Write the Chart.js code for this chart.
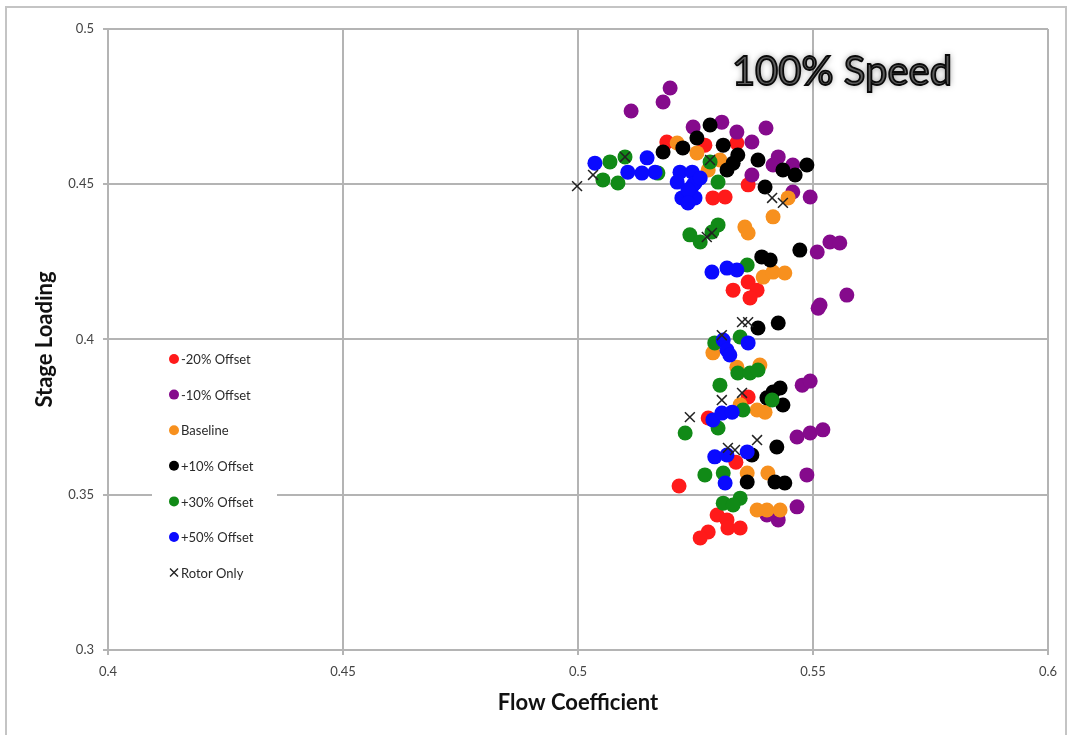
<!DOCTYPE html>
<html>
<head>
<meta charset="utf-8">
<script src="https://cdn.jsdelivr.net/npm/chart.js@4.4.1/dist/chart.umd.min.js"></script>
<style>
  html, body { margin: 0; padding: 0; background: #fff; }
  canvas { display: block; }
</style>
</head>
<body>
<canvas id="chart" width="1070" height="735"></canvas>
<script>
// Stage loading vs flow coefficient at 100% speed, one series per offset
const SERIES_NAMES = ['-20% Offset', '-10% Offset', 'Baseline', '+10% Offset', '+30% Offset', '+50% Offset', 'Rotor Only'];
const SERIES_COLORS = ['#ff1a1a', '#850a8c', '#f7901e', '#000000', '#118a17', '#0a0aff', '#222222'];

const X_TICKS = [0.4, 0.45, 0.5, 0.55, 0.6];
const Y_TICKS = [0.3, 0.35, 0.4, 0.45, 0.5];

const minus20 = [
  [0.5189, 0.4636], [0.5270, 0.4626], [0.5338, 0.4633], [0.5362, 0.4498], [0.5287, 0.4456],
  [0.5313, 0.4459], [0.5330, 0.4159], [0.5362, 0.4185], [0.5381, 0.4159], [0.5366, 0.4134],
  [0.5362, 0.3815], [0.5277, 0.3747], [0.5336, 0.3605], [0.5215, 0.3528], [0.5296, 0.3435],
  [0.5317, 0.3419], [0.5319, 0.3393], [0.5345, 0.3393], [0.5277, 0.3380], [0.5260, 0.3361]
];
const minus10 = [
  [0.5113, 0.4736], [0.5181, 0.4765], [0.5196, 0.4810], [0.5245, 0.4684], [0.5306, 0.4700],
  [0.5338, 0.4668], [0.5370, 0.4636], [0.5400, 0.4681], [0.5426, 0.4588], [0.5415, 0.4562],
  [0.5457, 0.4562], [0.5370, 0.4530], [0.5457, 0.4475], [0.5494, 0.4459], [0.5509, 0.4282],
  [0.5536, 0.4314], [0.5557, 0.4311], [0.5515, 0.4111], [0.5511, 0.4101], [0.5572, 0.4143],
  [0.5477, 0.3853], [0.5494, 0.3866], [0.5466, 0.3686], [0.5494, 0.3699], [0.5521, 0.3709],
  [0.5487, 0.3564], [0.5466, 0.3461], [0.5426, 0.3419], [0.5402, 0.3435]
];
const baseline = [
  [0.5211, 0.4633], [0.5253, 0.4601], [0.5277, 0.4546], [0.5302, 0.4578], [0.5447, 0.4456],
  [0.5415, 0.4395], [0.5355, 0.4362], [0.5362, 0.4343], [0.5394, 0.4201], [0.5415, 0.4217],
  [0.5440, 0.4214], [0.5287, 0.3957], [0.5338, 0.3911], [0.5387, 0.3918], [0.5381, 0.3773],
  [0.5398, 0.3766], [0.5345, 0.3790], [0.5360, 0.3570], [0.5404, 0.3570], [0.5381, 0.3451],
  [0.5402, 0.3451], [0.5430, 0.3451]
];
const plus10 = [
  [0.5281, 0.4691], [0.5253, 0.4649], [0.5223, 0.4617], [0.5181, 0.4604], [0.5309, 0.4626],
  [0.5340, 0.4594], [0.5330, 0.4568], [0.5317, 0.4546], [0.5383, 0.4578], [0.5398, 0.4491],
  [0.5436, 0.4546], [0.5462, 0.4530], [0.5487, 0.4562], [0.5472, 0.4288], [0.5391, 0.4266],
  [0.5409, 0.4256], [0.5426, 0.4053], [0.5383, 0.4037], [0.5415, 0.3831], [0.5430, 0.3844],
  [0.5436, 0.3789], [0.5402, 0.3812], [0.5423, 0.3654], [0.5360, 0.3541], [0.5419, 0.3541],
  [0.5440, 0.3538], [0.5370, 0.3628]
];
const plus30 = [
  [0.5068, 0.4572], [0.5100, 0.4588], [0.5053, 0.4514], [0.5085, 0.4504], [0.5170, 0.4536],
  [0.5281, 0.4572], [0.5298, 0.4507], [0.5238, 0.4337], [0.5260, 0.4314], [0.5298, 0.4369],
  [0.5285, 0.4346], [0.5360, 0.4240], [0.5345, 0.4008], [0.5291, 0.3989], [0.5302, 0.3853],
  [0.5340, 0.3892], [0.5366, 0.3892], [0.5383, 0.3902], [0.5413, 0.3805], [0.5351, 0.3773],
  [0.5298, 0.3715], [0.5228, 0.3699], [0.5270, 0.3564], [0.5309, 0.3570], [0.5309, 0.3473],
  [0.5345, 0.3489], [0.5330, 0.3467]
];
const plus50 = [
  [0.5036, 0.4568], [0.5106, 0.4539], [0.5147, 0.4585], [0.5164, 0.4539], [0.5136, 0.4536],
  [0.5217, 0.4539], [0.5243, 0.4539], [0.5211, 0.4507], [0.5245, 0.4498], [0.5221, 0.4456],
  [0.5249, 0.4456], [0.5249, 0.4504], [0.5234, 0.4482], [0.5260, 0.4520], [0.5234, 0.4440],
  [0.5285, 0.4217], [0.5317, 0.4230], [0.5338, 0.4224],
  [0.5309, 0.3998], [0.5362, 0.3989], [0.5317, 0.3966], [0.5323, 0.3950], [0.5287, 0.3741],
  [0.5306, 0.3763], [0.5328, 0.3766], [0.5291, 0.3622], [0.5317, 0.3628], [0.5360, 0.3638],
  [0.5313, 0.3538]
];
const rotorOnly = [
  [0.4998, 0.4494], [0.5032, 0.4530], [0.5100, 0.4588], [0.5281, 0.4578], [0.5413, 0.4456],
  [0.5436, 0.4440], [0.5285, 0.4343], [0.5274, 0.4330], [0.5349, 0.4056], [0.5362, 0.4056],
  [0.5306, 0.4014], [0.5306, 0.3805], [0.5349, 0.3828], [0.5238, 0.3750], [0.5381, 0.3676],
  [0.5319, 0.3651], [0.5334, 0.3644]
];

const SERIES_DATA = [minus20, minus10, baseline, plus10, plus30, plus50, rotorOnly];

const FONT = 'Lato, "Open Sans", sans-serif';
const GRID = '#b4b4b4';

// later series sit on top, so give them a lower draw order
const datasets = SERIES_DATA.map((pts, i) => {
  const isRotor = i === SERIES_DATA.length - 1;
  return {
    label: SERIES_NAMES[i],
    data: pts.map(([x, y]) => ({ x, y })),
    order: SERIES_DATA.length - i,
    pointStyle: isRotor ? 'crossRot' : 'circle',
    pointRadius: isRotor ? 7 : 7.5,
    pointBackgroundColor: SERIES_COLORS[i],
    pointBorderColor: SERIES_COLORS[i],
    pointBorderWidth: isRotor ? 1.5 : 0,
    pointHoverRadius: 7
  };
});

// outer frame, boxed legend and the speed label
const decorations = {
  id: 'decorations',
  beforeDraw(chart) {
    const ctx = chart.ctx;
    ctx.save();
    ctx.strokeStyle = '#c4c4c4';
    ctx.lineWidth = 2;
    ctx.strokeRect(6, 7, 1060, 740);
    ctx.restore();
  },
  afterDatasetsDraw(chart) {
    const ctx = chart.ctx;
    ctx.save();
    ctx.fillStyle = '#fff';
    ctx.fillRect(152, 345, 125, 242);
    ctx.font = '13px ' + FONT;
    ctx.textBaseline = 'middle';
    SERIES_NAMES.forEach((name, i) => {
      const y = 359 + i * 35.6;
      if (i === SERIES_NAMES.length - 1) {
        ctx.strokeStyle = '#222';
        ctx.lineWidth = 1.4;
        ctx.beginPath();
        ctx.moveTo(170, y - 4); ctx.lineTo(178, y + 4);
        ctx.moveTo(178, y - 4); ctx.lineTo(170, y + 4);
        ctx.stroke();
      } else {
        ctx.fillStyle = SERIES_COLORS[i];
        ctx.beginPath();
        ctx.arc(174, y, 5, 0, Math.PI * 2);
        ctx.fill();
      }
      ctx.fillStyle = '#2a2a2a';
      ctx.fillText(name, 181, y + 1);
    });

    ctx.font = '40px ' + FONT;
    ctx.textAlign = 'center';
    ctx.textBaseline = 'middle';
    ctx.shadowColor = 'rgba(0,0,0,0.5)';
    ctx.shadowBlur = 6;
    ctx.fillStyle = '#5c5c5c';
    ctx.fillText('100% Speed', 842, 72);
    ctx.shadowBlur = 0;
    ctx.strokeStyle = '#0a0a0a';
    ctx.lineWidth = 1.8;
    ctx.strokeText('100% Speed', 842, 72);
    ctx.restore();
  }
};

new Chart(document.getElementById('chart'), {
  type: 'scatter',
  data: { datasets },
  options: {
    responsive: false,
    animation: false,
    layout: { padding: { top: 29, right: 22, left: 0, bottom: 0 } },
    plugins: {
      legend: { display: false },
      tooltip: { enabled: false }
    },
    scales: {
      x: {
        type: 'linear',
        min: 0.4,
        max: 0.6,
        afterBuildTicks: (scale) => { scale.ticks = X_TICKS.map(v => ({ value: v })); },
        afterFit: (scale) => { scale.height = 85; },
        grid: { color: GRID, lineWidth: 2, tickLength: 5, tickColor: GRID },
        border: { color: GRID, width: 2 },
        ticks: {
          padding: 9,
          color: '#444',
          font: { family: FONT, size: 13 },
          callback: (v) => String(v)
        },
        title: {
          display: true,
          text: 'Flow Coefficient',
          color: '#111',
          font: { family: FONT, size: 22, weight: 'bold' },
          padding: { top: 0, bottom: 19 }
        }
      },
      y: {
        type: 'linear',
        min: 0.3,
        max: 0.5,
        afterBuildTicks: (scale) => { scale.ticks = Y_TICKS.map(v => ({ value: v })); },
        afterFit: (scale) => { scale.width = 108; },
        grid: { color: GRID, lineWidth: 2, tickLength: 5, tickColor: GRID },
        border: { color: GRID, width: 2 },
        ticks: {
          padding: 9,
          color: '#444',
          font: { family: FONT, size: 13 },
          callback: (v) => String(v)
        },
        title: {
          display: true,
          text: 'Stage Loading',
          color: '#111',
          font: { family: FONT, size: 22, weight: 'bold' },
          padding: { top: 32, bottom: 0 }
        }
      }
    }
  },
  plugins: [decorations]
});
</script>
</body>
</html>
